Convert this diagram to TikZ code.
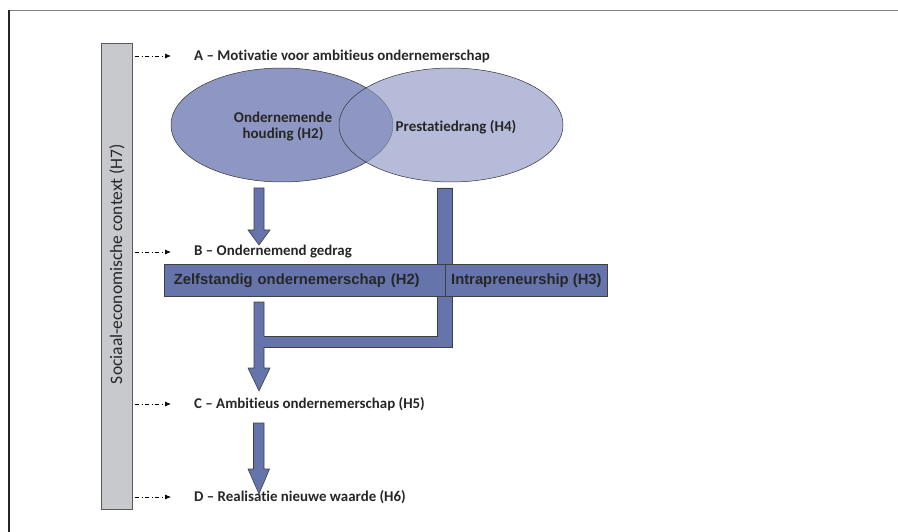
\documentclass[tikz,border=0pt]{standalone}
\usepackage{fontspec}
\setmainfont{Carlito}[Ligatures={TeX,NoCommon}]
\newfontfamily\boxfont{Liberation Sans}
\usetikzlibrary{shapes.geometric,arrows.meta,positioning}

\definecolor{ovalblue}{RGB}{142,151,196}
\definecolor{flowblue}{RGB}{101,116,170}
\definecolor{ctxgray}{RGB}{200,201,204}
\definecolor{inkgray}{RGB}{38,38,38}

\begin{document}
\begin{tikzpicture}[x=1pt,y=-1pt,
	stage/.style={anchor=west, inner sep=0pt, text=inkgray, font=\bfseries\fontsize{14.9}{16}\selectfont},
	level/.style={-{Latex[length=6pt,width=5pt]}, dash pattern=on 4pt off 2.5pt on 1pt off 2.5pt, line width=0.7pt},
	oval/.style={ellipse, draw=black!80, line width=0.5pt, inner sep=0pt, minimum height=114pt},
	ovaltext/.style={align=center, text=inkgray, font=\bfseries\fontsize{15}{16}\selectfont},
	behaviour/.style={rectangle, draw=black!75, fill=flowblue, line width=0.6pt, minimum height=32pt, inner ysep=0pt, text=inkgray, font=\boxfont\bfseries\fontsize{14.8}{16}\selectfont},
	flow/.style={draw=black!75, fill=flowblue, line width=0.6pt}]
	\useasboundingbox (0,0) rectangle (898,532);

	% frame
	\draw[gray, line width=1.5pt] (9,10.5) -- (898,10.5);
	\draw[black!85, line width=1.5pt] (9,10.5) -- (9,532);

	% context bar
	\node[draw=black!65, fill=ctxgray, line width=0.6pt, minimum width=31pt, minimum height=466pt, inner sep=0pt] (context) at (116.5,276) {};
	\node[rotate=90, text=inkgray, font=\fontsize{17.5}{19}\selectfont] (contexttext) at (117,264) {Sociaal-economische context (H7)};

	% stages
	\node[stage] (A) at (194,56) {A -- Motivatie voor ambitieus ondernemerschap};
	\node[stage] (B) at (194,252) {B -- Ondernemend gedrag};
	\node[stage] (C) at (194,404) {C -- Ambitieus ondernemerschap (H5)};
	\node[stage] (D) at (194,497) {D -- Realisatie nieuwe waarde (H6)};
	\foreach \s in {A,B,C,D}
		\draw[level, shorten <=3pt, shorten >=23pt] (context.east |- \s.west) -- (\s.west);

	% motivatie
	\node[oval, fill=ovalblue, minimum width=222pt] (houding) at (282,125) {};
	\node[oval, fill=ovalblue, fill opacity=0.65, minimum width=224pt] (drang) at (451,125) {};
	\node[ovaltext] (houdingtext) at (283,127) {Ondernemende\\houding (H2)};
	\node[ovaltext] (drangtext) at (456,127) {Prestatiedrang (H4)};

	% gedrag
	\draw[flow] (254,188) -- (264,188) -- (264,230) -- (270,230) -- (259,245) -- (248,230) -- (254,230) -- cycle;
	\draw[flow] (254,302) -- (264,302) -- (264,368) -- (270,368) -- (259,391) -- (248,368) -- (254,368) -- cycle;
	\fill[flowblue] (263,336) -- (437,336) -- (437,188) -- (452,188) -- (452,347) -- (263,347) -- cycle;
	\draw[draw=black!75, line width=0.6pt] (264,336) -- (437,336) -- (437,188) -- (452,188) -- (452,347) -- (264,347);
	\node[behaviour, text width=261pt, inner xsep=10pt, align=left, anchor=west] (zelf) at (163.5,280.5) {Zelfstandig ondernemerschap (H2)};
	\node[behaviour, minimum width=162pt, inner xsep=0pt, right=0pt of zelf] (intra) {Intrapreneurship (H3)};

	% realisatie
	\draw[flow] (253.5,423) -- (264,423) -- (264,469) -- (269.5,469) -- (259,494) -- (248,469) -- (253.5,469) -- cycle;
\end{tikzpicture}
\end{document}
